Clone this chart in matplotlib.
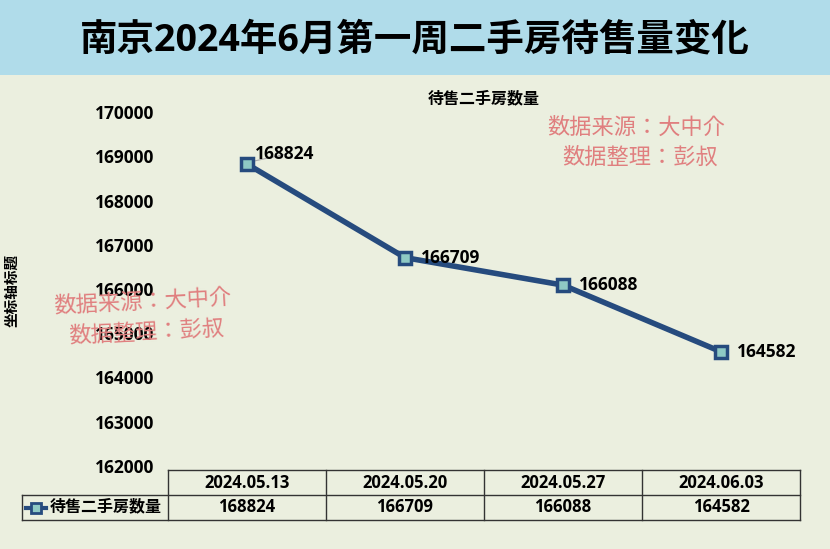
import matplotlib
matplotlib.use("Agg")
import matplotlib.pyplot as plt
from matplotlib.lines import Line2D
from matplotlib.patches import Rectangle

plt.rcParams['font.family'] = ['Open Sans', 'Noto Sans CJK JP', 'DejaVu Sans']

categories = ["2024.05.13", "2024.05.20", "2024.05.27", "2024.06.03"]
values = [168824, 166709, 166088, 164582]
series_name = "待售二手房数量"
yticks = [162000, 163000, 164000, 165000, 166000, 167000, 168000, 169000, 170000]

W, H = 830, 549
fig = plt.figure(figsize=(W/100, H/100), dpi=100)
fig.patch.set_facecolor("#ebefdf")
fig.patches.append(Rectangle((0, 1-75/H), 1, 75/H, transform=fig.transFigure,
                             facecolor="#b0dcea", edgecolor="none", zorder=0))
fig.text(0.5, 1-40/H, "南京2024年6月第一周二手房待售量变化", ha="center", va="center",
         fontsize=27, fontweight="bold")

x0, x1 = 168, 800
ax = fig.add_axes([x0/W, 1-466/H, (x1-x0)/W, (466-112)/H])
ax.set_facecolor("none")
xs = list(range(len(categories)))
ax.plot(xs, values, color="#264b7e", lw=4, marker="s", ms=9,
        markerfacecolor="#8ec9c4", markeredgecolor="#264b7e", markeredgewidth=2.5, zorder=3)
ax.set_xlim(-0.5, len(categories)-0.5)
ax.set_ylim(162000, 170000)
ax.set_yticks(yticks)
ax.set_yticklabels([str(t) for t in yticks], fontsize=12.5, fontweight="bold")
ax.set_xticks([])
for s in ["top", "right", "left", "bottom"]:
    ax.spines[s].set_visible(False)
ax.tick_params(axis="y", length=0, pad=10)
offs = [(0.05, 230), (0.1, 0), (0.1, 0), (0.1, 0)]
for i, v in enumerate(values):
    dx, dy = offs[i]
    ax.text(i+dx, v+dy, str(v), fontsize=12.5, fontweight="bold", va="center", ha="left")
ax.plot([0.03, 0.25], [168880, 169050], color="#aaaaaa", lw=0.8)
ax.set_title("待售二手房数量", fontsize=11.5, fontweight="bold", pad=6)
fig.text(12/W, 1-290/H, "坐标轴标题", rotation=90, ha="center", va="center", fontsize=10.5, fontweight="bold")

wm = "#e07f7f"
fig.text(636/W, 1-128/H, "数据来源：大中介", ha="center", va="center", fontsize=16, color=wm)
fig.text(640/W, 1-158/H, "数据整理：彭叔", ha="center", va="center", fontsize=16, color=wm)
fig.text(143/W, 1-303/H, "数据来源：大中介", ha="center", va="center", fontsize=16, color=wm, rotation=3)
fig.text(147/W, 1-333/H, "数据整理：彭叔", ha="center", va="center", fontsize=16, color=wm, rotation=3)

# data table
ty0, ty1, ty2 = 470, 495, 520
lx = 22
lc = "#333333"
def hl(y, xa, xb):
    fig.add_artist(Line2D([xa/W, xb/W], [1-y/H, 1-y/H], color=lc, lw=1))
def vl(x, ya, yb):
    fig.add_artist(Line2D([x/W, x/W], [1-ya/H, 1-yb/H], color=lc, lw=1))
hl(ty0, x0, x1); hl(ty1, lx, x1); hl(ty2, lx, x1)
vl(lx, ty1, ty2)
cw = (x1-x0)/len(categories)
for i in range(len(categories)+1):
    vl(x0+i*cw, ty0, ty2)
for i, (c, v) in enumerate(zip(categories, values)):
    cx = x0 + (i+0.5)*cw
    fig.text(cx/W, 1-(ty0+ty1)/2/H, c, ha="center", va="center", fontsize=12, fontweight="bold")
    fig.text(cx/W, 1-(ty1+ty2)/2/H, str(v), ha="center", va="center", fontsize=12, fontweight="bold")
ym = 1-(ty1+ty2)/2/H
fig.add_artist(Line2D([26/W, 46/W], [ym, ym], color="#264b7e", lw=3))
fig.add_artist(Line2D([36/W], [ym], marker="s", ms=7, markerfacecolor="#8ec9c4",
                      markeredgecolor="#264b7e", markeredgewidth=2))
fig.text(50/W, ym, series_name, ha="left", va="center", fontsize=11.5, fontweight="bold")

fig.savefig("out.png", dpi=100, facecolor=fig.get_facecolor())
